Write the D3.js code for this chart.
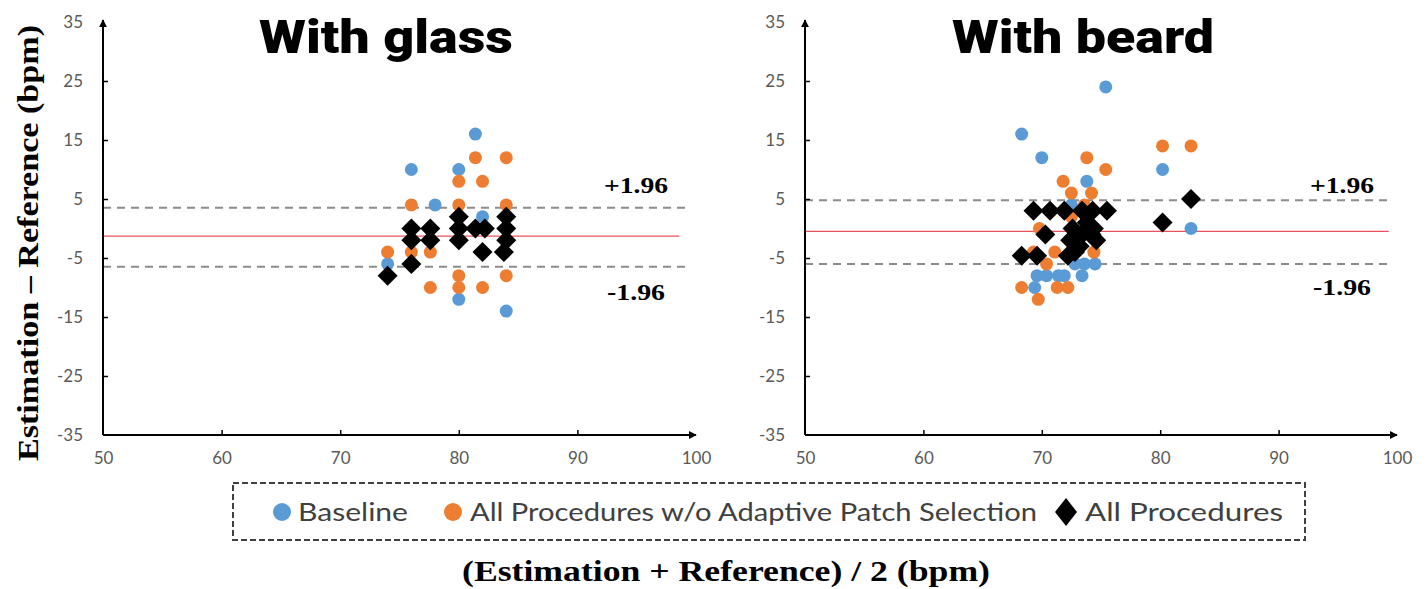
<!DOCTYPE html>
<meta charset="utf-8">
<style>
body { margin: 0; background: #fff; }
text { font-family: Lato, "Open Sans", sans-serif; }
.title { font-family: Roboto, "DejaVu Sans", sans-serif; font-weight: 900; font-size: 46px; }
.serif { font-family: "Liberation Serif", "DejaVu Serif", serif; font-weight: bold; }
.tick text { font-family: Lato, sans-serif; font-size: 17px; fill: #595959; }
</style>
<body>
<script src="https://cdn.jsdelivr.net/npm/d3@7"></script>
<script>
var width = 1426,
	height = 589;

// ticks
var xTicks = [50, 60, 70, 80, 90, 100];
var yTicks = [35, 25, 15, 5, -5, -15, -25, -35];

// series names and colours
var seriesNames = ["Baseline", "All Procedures w/o Adaptive Patch Selection", "All Procedures"];
var seriesColors = ["#5b9bd5", "#ed7d31", "#000000"];

// "With glass" panel : [mean, difference]
var glassBaseline = [[81.4,16],[76,10],[80,10],[78,4],[82,2],[74,-6],[80,-12],[84,-14]];
var glassNoPatch = [[81.4,12],[84,12],[80,8],[82,8],[76,4],[80,4],[84,4],[74,-4],[76,-4],[77.6,-4],
	[80,-8],[84,-8],[77.6,-10],[80,-10],[82,-10]];
var glassAll = [[74,-8],[76,-6],[76,0],[76,-2],[77.6,0],[77.6,-2],[80,2],[80,0],[80,-2],[81.4,0],
	[82.2,0],[82,-4],[84,2],[84,0],[84,-2],[83.8,-4]];
var glassLimits = [3.5, -1.3, -6.5]; // +1.96 SD, mean, -1.96 SD

// "With beard" panel
var beardBaseline = [[75.4,24],[68.3,16],[70,12],[80.2,10],[73.8,8],[82.6,0],[72.8,-6],[73.6,-6],[74.5,-6],
	[69.6,-8],[70.4,-8],[71.4,-8],[71.9,-8],[73.4,-8],[69.4,-10],[72.5,4]];
var beardNoPatch = [[80.2,14],[82.6,14],[73.8,12],[75.4,10],[71.8,8],[72.5,6],[74.2,6],[73.6,4],[72.5,2],
	[69.8,0],[69.3,-4],[71.1,-4],[74.4,-4],[70.4,-6],[68.3,-10],[71.3,-10],[72.2,-10],[69.7,-12]];
var beardAll = [[69.3,3],[70.7,3],[71.9,3],[73.4,3],[74.3,3],[75.5,3],[70.3,-1],[68.3,-4.6],[69.6,-4.6],
	[72.6,0],[73.4,-1],[74.2,-1],[72.4,-2],[73.2,-3],[74.6,-2],[72.8,-4],[72.2,-4.6],[73.8,1],[74.4,0],
	[80.2,1],[82.6,5]];
var beardLimits = [4.8, -0.5, -6.0];

var svg = d3.select("body").append("svg")
	.attr("width", width)
	.attr("height", height);

var defs = svg.append("defs");
defs.append("marker")
	.attr("id", "arrow")
	.attr("viewBox", "0 0 10 10")
	.attr("refX", 9)
	.attr("refY", 5)
	.attr("markerWidth", 8)
	.attr("markerHeight", 8)
	.attr("markerUnits", "userSpaceOnUse")
	.attr("orient", "auto")
	.append("path")
	.attr("d", "M0,0L10,5L0,10Z")
	.style("fill", "#000");

function panel(title, titleX, x0, x1, baseline, noPatch, all, limits, lineEnds, labelX) {
	var x = d3.scaleLinear().domain([50, 100]).range([x0, x1]);
	var y = d3.scaleLinear().domain([-35, 35]).range([435, 22]);
	var g = svg.append("g");

	// limit lines
	g.append("line")
		.attr("x1", x(50)).attr("x2", x(lineEnds[1]))
		.attr("y1", y(limits[0])).attr("y2", y(limits[0]))
		.style("stroke", "#8c8c8c").style("stroke-width", 2).style("stroke-dasharray", "8,6");
	g.append("line")
		.attr("x1", x(50)).attr("x2", x(lineEnds[1]))
		.attr("y1", y(limits[2])).attr("y2", y(limits[2]))
		.style("stroke", "#8c8c8c").style("stroke-width", 2).style("stroke-dasharray", "8,6");
	g.append("line")
		.attr("x1", x(50)).attr("x2", x(lineEnds[0]))
		.attr("y1", y(limits[1])).attr("y2", y(limits[1]))
		.style("stroke", "#e8525a").style("stroke-width", 1.3);

	g.append("text").attr("class", "serif")
		.attr("x", labelX[0]).attr("y", labelX[1])
		.attr("text-anchor", "middle").style("font-size", "23px")
		.attr("textLength", 64).attr("lengthAdjust", "spacingAndGlyphs")
		.text("+1.96");
	g.append("text").attr("class", "serif")
		.attr("x", labelX[0]).attr("y", labelX[2])
		.attr("text-anchor", "middle").style("font-size", "23px")
		.attr("textLength", 58).attr("lengthAdjust", "spacingAndGlyphs")
		.text("-1.96");

	// axes
	var fmt = function(d) { return String(d); };
	var xa = g.append("g").attr("transform", "translate(0," + y(-35) + ")")
		.call(d3.axisBottom(x).tickValues(xTicks).tickFormat(fmt).tickSizeInner(-5).tickSizeOuter(0).tickPadding(17));
	xa.select(".domain").remove();
	xa.selectAll(".tick").filter(function(d) { return d == 50 || d == 100; }).select("line").remove();
	var ya = g.append("g").attr("transform", "translate(" + x(50) + ",0)")
		.call(d3.axisLeft(y).tickValues(yTicks).tickFormat(fmt).tickSizeInner(-5).tickSizeOuter(0).tickPadding(20));
	ya.select(".domain").remove();
	ya.selectAll(".tick").filter(function(d) { return d == 35 || d == -35; }).select("line").remove();
	g.selectAll(".tick line").style("stroke", "#000").style("stroke-width", 1.5);

	g.append("line")
		.attr("x1", x(50)).attr("y1", y(-35)).attr("x2", x(100)).attr("y2", y(-35))
		.style("stroke", "#000").style("stroke-width", 2)
		.attr("marker-end", "url(#arrow)");
	g.append("line")
		.attr("x1", x(50)).attr("y1", y(-35)).attr("x2", x(50)).attr("y2", y(35) - 2)
		.style("stroke", "#000").style("stroke-width", 2)
		.attr("marker-end", "url(#arrow)");

	// points
	g.append("g").selectAll("circle").data(baseline).enter().append("circle")
		.attr("cx", function(d) { return x(d[0]); })
		.attr("cy", function(d) { return y(d[1]); })
		.attr("r", 6.5)
		.style("fill", seriesColors[0]);
	g.append("g").selectAll("circle").data(noPatch).enter().append("circle")
		.attr("cx", function(d) { return x(d[0]); })
		.attr("cy", function(d) { return y(d[1]); })
		.attr("r", 6.5)
		.style("fill", seriesColors[1]);
	g.append("g").selectAll("path").data(all).enter().append("path")
		.attr("d", d3.symbol().type(d3.symbolSquare).size(200))
		.attr("transform", function(d) { return "translate(" + x(d[0]) + "," + y(d[1]) + ")rotate(45)"; })
		.style("fill", seriesColors[2]);

	g.append("text").attr("class", "title")
		.attr("x", titleX).attr("y", 53)
		.attr("text-anchor", "middle")
		.attr("textLength", title == "With glass" ? 254 : 262)
		.attr("lengthAdjust", "spacingAndGlyphs")
		.text(title);
}

panel("With glass", 386, 103, 696, glassBaseline, glassNoPatch, glassAll, glassLimits, [98.6, 99.2], [636, 193, 300]);
panel("With beard", 1083, 805, 1397, beardBaseline, beardNoPatch, beardAll, beardLimits, [99.3, 99.4], [1342, 193, 295]);

// axis titles
svg.append("text").attr("class", "serif")
	.attr("transform", "translate(38,243)rotate(-90)")
	.attr("text-anchor", "middle")
	.style("font-size", "29px")
	.attr("textLength", 436)
	.attr("lengthAdjust", "spacingAndGlyphs")
	.text("Estimation \u2013 Reference (bpm)");
svg.append("text").attr("class", "serif")
	.attr("x", 726).attr("y", 581)
	.attr("text-anchor", "middle")
	.style("font-size", "29px")
	.attr("textLength", 528)
	.attr("lengthAdjust", "spacingAndGlyphs")
	.text("(Estimation + Reference) / 2 (bpm)");

// legend
svg.append("rect")
	.attr("x", 233).attr("y", 483).attr("width", 1072).attr("height", 57)
	.style("fill", "none").style("stroke", "#404040").style("stroke-width", 2)
	.style("stroke-dasharray", "6,3");

var legendX = [282, 453, 1066];
var legendTextX = [298, 470, 1085];
var legendTextW = [110, 567, 198];
var leg = svg.append("g").selectAll("g").data(seriesNames).enter().append("g");
leg.filter(function(d, i) { return i < 2; }).append("circle")
	.attr("cx", function(d, i) { return legendX[i]; })
	.attr("cy", 512)
	.attr("r", 9)
	.style("fill", function(d, i) { return seriesColors[i]; });
leg.filter(function(d, i) { return i == 2; }).append("path")
	.attr("d", "M" + legendX[2] + ",498L" + (legendX[2] + 11) + ",512L" + legendX[2] + ",526L" + (legendX[2] - 11) + ",512Z")
	.style("fill", "#000");
leg.append("text")
	.attr("x", function(d, i) { return legendTextX[i]; })
	.attr("y", 521)
	.style("font-size", "25px")
	.style("fill", "#404040")
	.attr("textLength", function(d, i) { return legendTextW[i]; })
	.attr("lengthAdjust", "spacingAndGlyphs")
	.text(function(d) { return d; });
</script>
</body>
